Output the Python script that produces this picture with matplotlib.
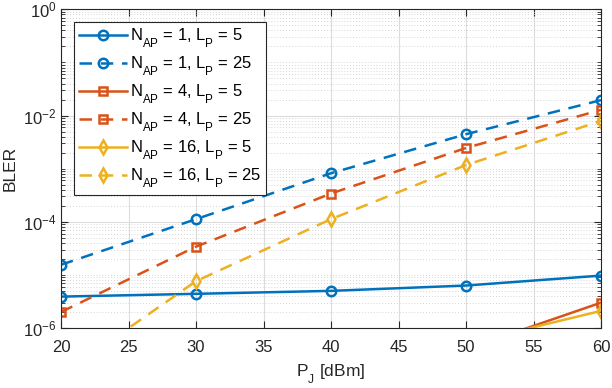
import matplotlib
matplotlib.use("Agg")
import matplotlib.pyplot as plt
from matplotlib.ticker import FixedLocator, NullFormatter
import numpy as np
try:
    import matplotlib._mathtext as _mt
    _mt.FontConstantsBase.sub1 = 0.8
    _mt.FontConstantsBase.sub2 = 0.9
except Exception:
    pass

plt.rcParams['font.family'] = ['Liberation Sans', 'DejaVu Sans']
plt.rcParams['mathtext.default'] = 'regular'

pj = [20, 30, 40, 50, 60]
bler_n1_l5 = [3.9e-6, 4.4e-6, 5.0e-6, 6.3e-6, 9.7e-6]
bler_n1_l25 = [1.55e-5, 1.12e-4, 8.2e-4, 4.45e-3, 1.95e-2]
bler_n4_l5 = [1e-8, 3e-8, 1.2e-7, 4.0e-7, 3.0e-6]
bler_n4_l25 = [2.0e-6, 3.4e-5, 3.4e-4, 2.45e-3, 1.28e-2]
bler_n16_l5 = [5e-9, 2e-8, 1.0e-7, 5.1e-7, 2.1e-6]
bler_n16_l25 = [1.3e-7, 7.6e-6, 1.12e-4, 1.17e-3, 7.9e-3]

series = [
    (bler_n1_l5, '1', '5'),
    (bler_n1_l25, '1', '25'),
    (bler_n4_l5, '4', '5'),
    (bler_n4_l25, '4', '25'),
    (bler_n16_l5, '16', '5'),
    (bler_n16_l25, '16', '25'),
]
colors = ['#0072BD', '#0072BD', '#D95319', '#D95319', '#EDB120', '#EDB120']
markers = ['o', 'o', 's', 's', 'd', 'd']
styles = ['-', '--', '-', '--', '-', '--']
msizes = {'o': 6.8, 's': 5.8, 'd': 7.0}

fig = plt.figure(figsize=(6.12, 3.88), dpi=100)
ax = fig.add_axes([61/612, 1-328/388, 540/612, 318.7/388])

for (vals, nap, lp), c, m, ls in zip(series, colors, markers, styles):
    label = r'N$_{AP}$ = %s, L$_{P}$ = %s' % (nap, lp)
    ax.plot(pj, vals, color=c, linestyle=ls, linewidth=1.8, marker=m,
            markersize=msizes[m], markerfacecolor='none',
            markeredgewidth=1.8, label=label,
            dashes=(5, 3.5) if ls == '--' else (None, None))

ax.set_yscale('log')
ax.set_xlim(20, 60)
ax.set_ylim(1e-6, 1)
ax.set_xticks(np.arange(20, 61, 5))
ax.set_yticks([1e-6, 1e-4, 1e-2, 1])
ax.set_yticklabels([r'10$^{-6}$', r'10$^{-4}$', r'10$^{-2}$', r'10$^{0}$'])
minors = [k * 10.0**e for e in range(-6, 0) for k in range(1, 10)]
minors = [v for v in minors if v not in (1e-6, 1e-4, 1e-2)]
ax.yaxis.set_minor_locator(FixedLocator(minors))
ax.yaxis.set_minor_formatter(NullFormatter())

ax.grid(True, which='major', color='#dcdcdc', linewidth=0.8, linestyle='-')
ax.grid(True, which='minor', axis='y', color='#c8c8c8', linewidth=0.6, linestyle=(0, (1, 2.5)))
ax.set_axisbelow(True)

for s in ax.spines.values():
    s.set_color('#262626')
    s.set_linewidth(0.8)
ax.tick_params(which='both', direction='in', top=True, right=True, colors='#262626',
               labelsize=12, labelcolor='#262626')
ax.tick_params(which='major', length=5)
ax.tick_params(which='minor', length=3)
ax.tick_params(axis='x', pad=9)
ax.tick_params(axis='y', pad=3)

ax.set_xlabel(r'P$_J$ [dBm]', fontsize=12.5, color='#262626', labelpad=5)
ax.set_ylabel('BLER', fontsize=12.5, color='#262626', labelpad=4)

leg = ax.legend(loc='upper left', bbox_to_anchor=(13/540, (328-22)/318.7), borderaxespad=0,
                fontsize=12, handlelength=2.9, handletextpad=0.15, labelspacing=0.28,
                borderpad=0.3, fancybox=False, framealpha=1, edgecolor='#262626')
leg.get_frame().set_linewidth(0.8)

fig.savefig('out.png', dpi=100)
